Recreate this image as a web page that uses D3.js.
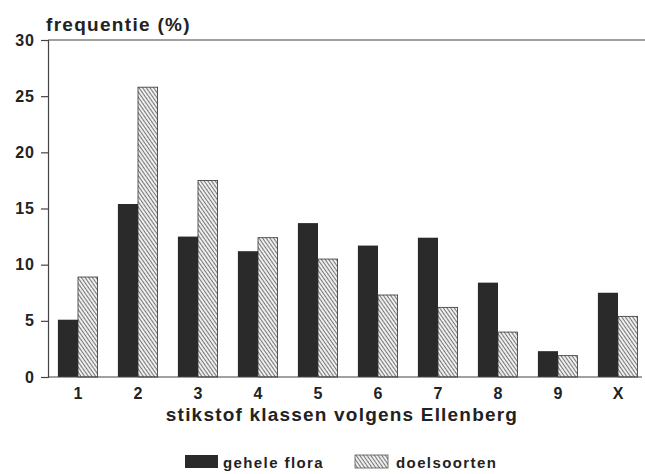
<!DOCTYPE html>
<html><head><meta charset="utf-8">
<script src="https://cdn.jsdelivr.net/npm/d3@7"></script>
<style>body{margin:0;background:#fff}svg{display:block}text{font-family:"Liberation Sans",Arial,sans-serif;fill:#222}</style>
</head><body><svg id="c" width="645" height="474"></svg>
<script>
const categories = ["1","2","3","4","5","6","7","8","9","X"];
const geheleFlora = [5.1,15.4,12.5,11.2,13.7,11.7,12.4,8.4,2.3,7.5];
const doelsoorten = [8.9,25.8,17.5,12.4,10.5,7.3,6.2,4.0,1.9,5.4];
const yTicks = [0,5,10,15,20,25,30];
const seriesNames = ["gehele flora","doelsoorten"];

const svg = d3.select("#c");
const defs = svg.append("defs");
const pat = defs.append("pattern").attr("id","hatch").attr("patternUnits","userSpaceOnUse")
  .attr("width",3).attr("height",3).attr("patternTransform","rotate(-35)");
pat.append("rect").attr("width",3).attr("height",3).attr("fill","#eeeeee");
pat.append("line").attr("x1",0).attr("y1",0).attr("x2",0).attr("y2",3).attr("stroke","#444").attr("stroke-width",1.4);

const m = {left:48, top:40, right:645, bottom:377};
const x = d3.scaleBand().domain(categories).range([48, 648]).paddingInner(0.33).paddingOuter(0.165);
const y = d3.scaleLinear().domain([0,30]).range([m.bottom, m.top]);
const bw = x.bandwidth()/2;

svg.append("line").attr("x1",m.left).attr("x2",645).attr("y1",m.top).attr("y2",m.top).attr("stroke","#444").attr("stroke-width",1.2);

const g = svg.append("g");
g.selectAll(".d").data(categories).join("rect")
  .attr("x",d=>x(d)).attr("y",(d,i)=>y(geheleFlora[i])).attr("width",bw)
  .attr("height",(d,i)=>y(0)-y(geheleFlora[i])).attr("fill","#2a2a2a");
g.selectAll(".h").data(categories).join("rect")
  .attr("x",d=>x(d)+bw).attr("y",(d,i)=>y(doelsoorten[i])).attr("width",bw-0.5)
  .attr("height",(d,i)=>y(0)-y(doelsoorten[i])).attr("fill","url(#hatch)").attr("stroke","#333").attr("stroke-width",0.8);

const ya = svg.append("g").attr("transform",`translate(${m.left},0)`)
  .call(d3.axisLeft(y).tickValues(yTicks).tickSize(7).tickPadding(6));
ya.select(".domain").attr("stroke","#444").attr("stroke-width",1.2);
ya.selectAll(".tick line").attr("stroke","#444").attr("stroke-width",1.2);
ya.selectAll("text").attr("font-size",16).attr("font-weight","bold").attr("letter-spacing",1).style("fill","#222");

const xa = svg.append("g").attr("transform",`translate(0,${m.bottom})`)
  .call(d3.axisBottom(x).tickSize(0).tickPadding(11));
xa.select(".domain").attr("d",`M${m.left},0H642`).attr("stroke","#444").attr("stroke-width",1.2);
xa.selectAll(".tick text").attr("font-size",16).attr("font-weight","bold").style("fill","#222");

svg.append("text").attr("x",46).attr("y",31).attr("font-size",19).attr("font-weight","bold").attr("letter-spacing",1.3).text("frequentie (%)");
svg.append("text").attr("x",342).attr("y",421).attr("text-anchor","middle").attr("font-size",19).attr("font-weight","bold").attr("letter-spacing",1.2).text("stikstof klassen volgens Ellenberg");

const leg = [{x:185, fill:"#2a2a2a", tx:223},{x:355, fill:"url(#hatch)", tx:396}];
leg.forEach((l,i)=>{
  svg.append("rect").attr("x",l.x).attr("y",455).attr("width",33).attr("height",13).attr("fill",l.fill)
    .attr("stroke", i? "#555":"none").attr("stroke-width",0.8);
  svg.append("text").attr("x",l.tx).attr("y",468).attr("font-size",15).attr("font-weight","bold").attr("letter-spacing",1.4).text(seriesNames[i]);
});
</script></body></html>
